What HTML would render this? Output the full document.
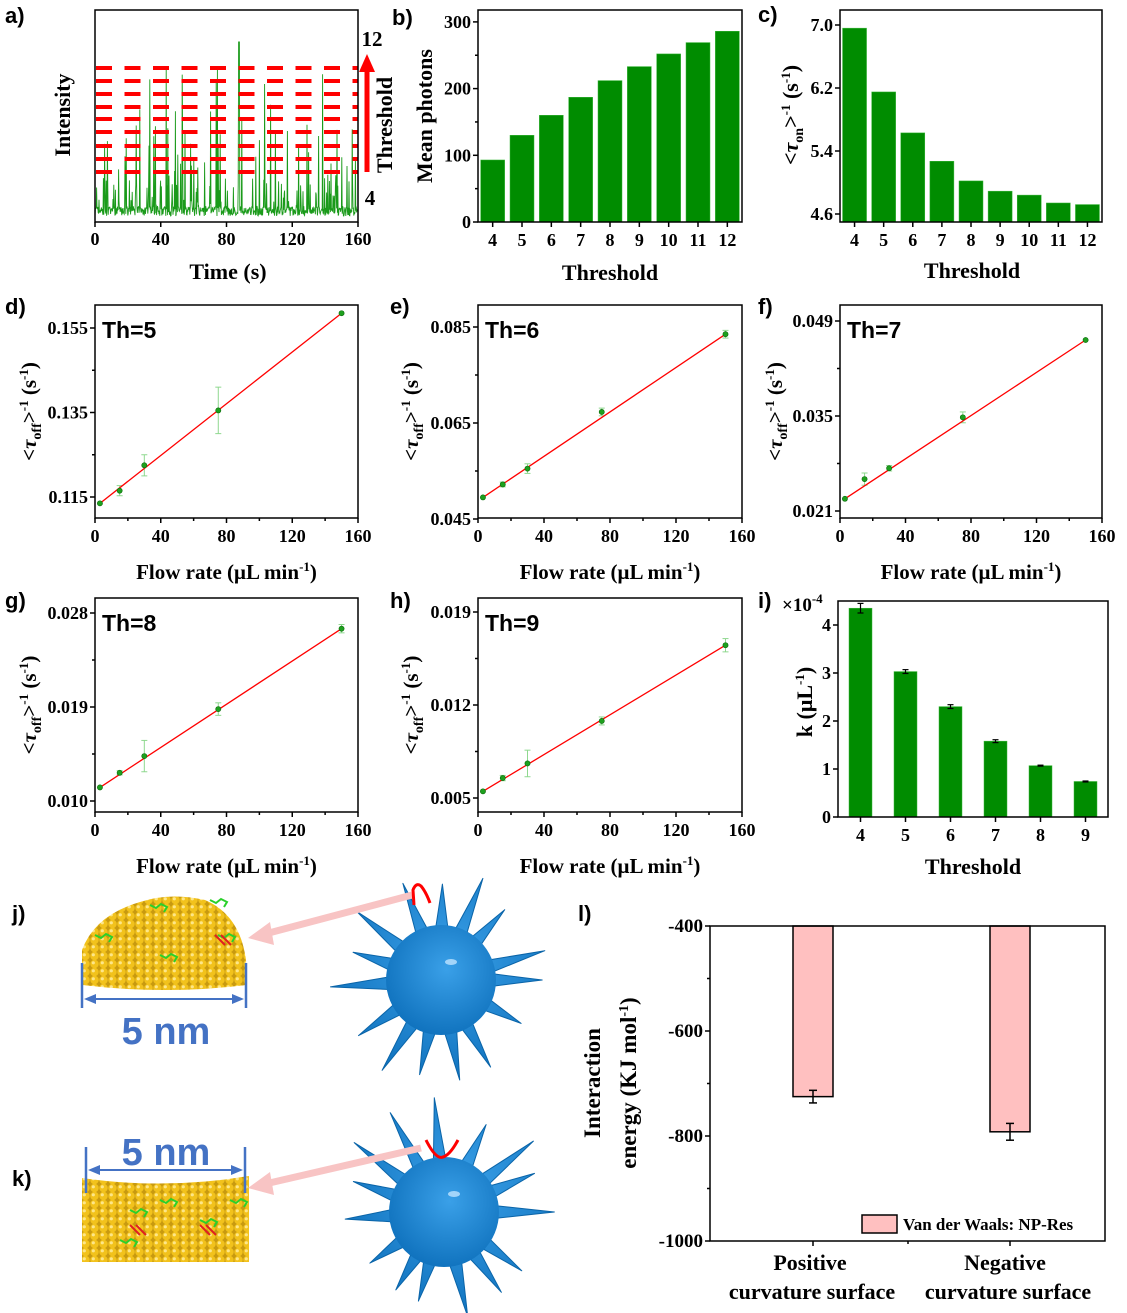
<!DOCTYPE html>
<html><head><meta charset="utf-8">
<style>
html,body{margin:0;padding:0;background:#fff;}
svg{display:block;}
.t{font-family:"Liberation Serif",serif;font-weight:bold;fill:#000;}
.s{font-family:"Liberation Sans",sans-serif;font-weight:bold;fill:#000;}
</style></head>
<body>
<svg id="c" width="1127" height="1313" viewBox="0 0 1127 1313" xmlns="http://www.w3.org/2000/svg">
<defs>
<pattern id="au" width="9" height="8" patternUnits="userSpaceOnUse">
<rect width="9" height="8" fill="#c89a10"/>
<circle cx="4.5" cy="4" r="4.2" fill="#f2c21c"/>
<circle cx="3.3" cy="2.8" r="1.6" fill="#fde68a"/>
</pattern>
<radialGradient id="bl" cx="0.55" cy="0.4" r="0.7">
<stop offset="0" stop-color="#3aa0e8"/><stop offset="1" stop-color="#0a6cb8"/>
</radialGradient>
</defs>
</svg>
<script>
const S=document.getElementById('c');const NS='http://www.w3.org/2000/svg';
function el(n,a,t){const e=document.createElementNS(NS,n);for(const k in a)e.setAttribute(k,a[k]);if(t!==undefined)e.textContent=t;S.appendChild(e);return e;}
function txt(x,y,s,o){o=o||{};const a={x:x,y:y,class:o.c||'t','font-size':o.f||18,'text-anchor':o.a||'middle'};if(o.r){a.transform='rotate(-90 '+x+' '+y+')';}if(o.fill)a.style='fill:'+o.fill;const e=el('text',a);e.innerHTML=s;return e;}
function box(x0,y0,x1,y1){el('rect',{x:x0,y:y0,width:x1-x0,height:y1-y0,fill:'none',stroke:'#000','stroke-width':1.5});}
function line(x0,y0,x1,y1,c,w){el('line',{x1:x0,y1:y0,x2:x1,y2:y1,stroke:c||'#000','stroke-width':w||1.5});}
const G='#008c00';
// ---- panel a
(function(){
 const x0=95,x1=358,y0=10,y1=222;
 let seed=7;function r(){seed=(seed*16807)%2147483647;return seed/2147483647;}
 let d='M'+x0+' 214';
 for(let x=x0;x<=x1;x+=0.4){let y=216-r()*10;if(r()<0.12)y=208-r()*30;if(r()<0.06)y=195-r()*70;if(r()<0.025)y=170-r()*105;if(Math.abs(x-239)<0.5)y=42;d+='L'+x.toFixed(1)+' '+y.toFixed(1)+' ';}
 el('path',{d:d,fill:'none',stroke:'#1a9a1a','stroke-width':0.9});
 [68,81,94,107,119,132,146,159,172].forEach(y=>{el('line',{x1:x0+1,y1:y,x2:x1,y2:y,stroke:'#ff0000','stroke-width':4,'stroke-dasharray':'16 12.5'});});
 box(x0,y0,x1,y1);
 [0,40,80,120,160].forEach((v,i)=>{const x=x0+i*(x1-x0)/4;line(x,y1,x,y1+5);txt(x,245,v);});
 line(367,172,367,70,'#ff0000',5);el('polygon',{points:'359,72 375,72 367,54',fill:'#ff0000'});
 txt(372,46,'12',{f:21,a:'middle'});txt(370,205,'4',{f:21});
 txt(392,125,'Threshold',{f:22,r:1});txt(70,115,'Intensity',{f:22,r:1});
 txt(228,279,'Time (s)',{f:22});
})();
// ---- bar helper
function bars(x0,x1,y0,y1,cats,vals,ymap,w,ticks,tickfmt,errs){
 cats.forEach((c,i)=>{const cx=x0+(i+0.5)*(x1-x0)/cats.length;const yt=ymap(vals[i]);el('rect',{x:cx-w/2,y:yt,width:w,height:y1-yt,fill:G,stroke:'#3cb83c','stroke-width':0.5});
  line(cx,y1,cx,y1+5);txt(cx,y1+24,c);
  if(errs){const e=errs[i];line(cx,ymap(vals[i]+e),cx,ymap(vals[i]-e),'#000',1.2);line(cx-3,ymap(vals[i]+e),cx+3,ymap(vals[i]+e),'#000',1.2);line(cx-3,ymap(vals[i]-e),cx+3,ymap(vals[i]-e),'#000',1.2);}
 });
 box(x0,y0,x1,y1);
 ticks.forEach(v=>{const y=ymap(v);line(x0-5,y,x0,y);txt(x0-7,y+6,tickfmt(v),{a:'end'});});
}
const cb=[4,5,6,7,8,9,10,11,12];
bars(478,742,10,222,cb,[93,130,160,187,212,233,252,269,286],v=>222-v*0.667,24,[0,100,200,300],v=>v);
[50,150,250].forEach(v=>line(475,222-v*0.667,478,222-v*0.667));
txt(610,280,'Threshold',{f:22});txt(432,116,'Mean photons',{f:22,r:1});
const cm=v=>214-(v-4.6)*78.75;
bars(840,1102,10,222,cb,[6.96,6.15,5.63,5.27,5.02,4.89,4.84,4.74,4.72],v=>Math.min(222,cm(v)),24,[4.6,5.4,6.2,7.0],v=>v.toFixed(1));
txt(972,278,'Threshold',{f:22});
txt(798,115,'&lt;<tspan font-style="italic">τ</tspan><tspan font-size="14" dy="5">on</tspan><tspan dy="-5">&gt;</tspan><tspan font-size="13" dy="-8">-1</tspan><tspan dy="8"> (s</tspan><tspan font-size="13" dy="-8">-1</tspan><tspan dy="8">)</tspan>',{f:22,r:1});
// ---- line panels
function lp(x0,x1,y0,y1,ticks,tf,ymap,pts,errs,th,ylx){
 box(x0,y0,x1,y1);
 const xm=v=>x0+v*(x1-x0)/160;
 [0,40,80,120,160].forEach(v=>{line(xm(v),y1,xm(v),y1+5);txt(xm(v),y1+24,v);});
 [20,60,100,140].forEach(v=>line(xm(v),y1,xm(v),y1+3));
 ticks.forEach(v=>{line(x0-5,ymap(v),x0,ymap(v));txt(x0-7,ymap(v)+6,tf(v),{a:'end'});});
 const dt=(ticks[1]-ticks[0])/2;line(x0-3,ymap(ticks[0]+dt),x0,ymap(ticks[0]+dt));line(x0-3,ymap(ticks[1]+dt),x0,ymap(ticks[1]+dt));
 const p0=pts[0],p1=pts[pts.length-1];
 pts.forEach((p,i)=>{const e=errs[i];if(e){const cx=xm(p[0]);line(cx,ymap(p[1]+e),cx,ymap(p[1]-e),'#8fd88f',1);line(cx-3,ymap(p[1]+e),cx+3,ymap(p[1]+e),'#8fd88f',1);line(cx-3,ymap(p[1]-e),cx+3,ymap(p[1]-e),'#8fd88f',1);}});
 line(xm(p0[0]),ymap(p0[1]),xm(p1[0]),ymap(p1[1]),'#ff0000',1.3);
 pts.forEach(p=>el('circle',{cx:xm(p[0]),cy:ymap(p[1]),r:2.6,fill:'#1ea01e',stroke:'#0a6a0a','stroke-width':0.6}));
 txt(x0+7,y0+33,th,{c:'s',f:23,a:'start'});
 txt((x0+x1)/2,y1+61,'Flow rate (μL min<tspan font-size="13" dy="-8">-1</tspan><tspan dy="8">)</tspan>',{f:21});
 txt(ylx,(y0+y1)/2,'&lt;<tspan font-style="italic">τ</tspan><tspan font-size="14" dy="5">off</tspan><tspan dy="-5">&gt;</tspan><tspan font-size="13" dy="-8">-1</tspan><tspan dy="8"> (s</tspan><tspan font-size="13" dy="-8">-1</tspan><tspan dy="8">)</tspan>',{f:21,r:1});
}
const X=[3,15,30,75,150];
function mk(v0,y0,v1,y1){return v=>y0+(v-v0)*(y1-y0)/(v1-v0);}
lp(95,358,305,518,[0.115,0.135,0.155],v=>v.toFixed(3),mk(0.155,328,0.115,497),X.map((x,i)=>[x,[0.1135,0.1165,0.1225,0.1355,0.1585][i]]),[0,0.0012,0.0025,0.0055,0],'Th=5',36);
lp(478,742,305,518,[0.045,0.065,0.085],v=>v.toFixed(3),mk(0.085,327,0.045,519),X.map((x,i)=>[x,[0.0495,0.0522,0.0555,0.0673,0.0835][i]]),[0,0.0005,0.001,0.0008,0.0008],'Th=6',418);
lp(840,1102,305,518,[0.021,0.035,0.049],v=>v.toFixed(3),mk(0.049,321,0.021,511),X.map((x,i)=>[x,[0.0228,0.0257,0.0273,0.0348,0.0462][i]]),[0,0.0009,0.0004,0.0008,0],'Th=7',782);
lp(95,358,598,812,[0.010,0.019,0.028],v=>v.toFixed(3),mk(0.028,613,0.010,801),X.map((x,i)=>[x,[0.0113,0.0127,0.0143,0.0188,0.0265][i]]),[0,0.0002,0.0015,0.0006,0.0004],'Th=8',36);
lp(478,742,598,812,[0.005,0.012,0.019],v=>v.toFixed(3),mk(0.019,612,0.005,798),X.map((x,i)=>[x,[0.0055,0.0065,0.0076,0.0108,0.0165][i]]),[0,0.0002,0.001,0.0003,0.0005],'Th=9',418);
// ---- panel i
bars(838,1108,601,817,[4,5,6,7,8,9],[4.35,3.03,2.3,1.58,1.07,0.74],v=>817-v*48,23,[0,1,2,3,4],v=>v,[0.1,0.04,0.04,0.03,0.01,0.01]);
txt(973,874,'Threshold',{f:22});
txt(812,702,'k (μL<tspan font-size="13" dy="-8">-1</tspan><tspan dy="8">)</tspan>',{f:22,r:1});
txt(782,611,'×10<tspan font-size="13" dy="-8">-4</tspan>',{f:19,a:'start'});
// ---- panel labels
[['a)',5,23],['b)',392,25],['c)',758,22],['d)',5,314],['e)',390,314],['f)',758,314],['g)',5,608],['h)',390,608],['i)',758,608],['j)',12,921],['k)',12,1186],['l)',578,921]].forEach(p=>txt(p[1],p[2],p[0],{c:'s',f:22,a:'start'}));
// ---- panel l
(function(){
 const x0=710,x1=1105,y0=926,y1=1241,ym=v=>y0+(-400-v)*(y1-y0)/600;
 [[813,-725,12],[1010,-792,16]].forEach(b=>{el('rect',{x:b[0]-20,y:y0,width:40,height:ym(b[1])-y0,fill:'#ffc0c0',stroke:'#000','stroke-width':1.5});
  const e=b[2];line(b[0],ym(b[1]+e),b[0],ym(b[1]-e),'#000',1.5);line(b[0]-4,ym(b[1]+e),b[0]+4,ym(b[1]+e),'#000',1.5);line(b[0]-4,ym(b[1]-e),b[0]+4,ym(b[1]-e),'#000',1.5);
  line(b[0],y1,b[0],y1+5);});
 box(x0,y0,x1,y1);line(908,y1,908,y1+3);
 [-400,-600,-800,-1000].forEach(v=>{line(x0-5,ym(v),x0,ym(v));txt(x0-7,ym(v)+6,v,{a:'end',f:19});});
 [-500,-700,-900].forEach(v=>line(x0-3,ym(v),x0,ym(v)));
 el('rect',{x:862,y:1215,width:35,height:18,fill:'#ffc0c0',stroke:'#000','stroke-width':1.5});
 txt(903,1230,'Van der Waals: NP-Res',{a:'start',f:17});
 txt(810,1270,'Positive',{f:22});txt(812,1299,'curvature surface',{f:22});
 txt(1005,1270,'Negative',{f:22});txt(1008,1299,'curvature surface',{f:22});
 txt(600,1083,'Interaction',{f:23,r:1});txt(636,1083,'energy (KJ mol<tspan font-size="14" dy="-8">-1</tspan><tspan dy="8">)</tspan>',{f:23,r:1});
})();
// ---- j / k illustrations
function star(cx,cy,seed){let s=seed;function r(){s=(s*16807)%2147483647;return s/2147483647;}
 const n=15;let d='';for(let i=0;i<n;i++){const a=i/n*2*Math.PI+r()*0.25;const a1=a-0.13,a2=a+0.13;const R=50,L=90+r()*25;
  const p=(ang,rr)=>[cx+rr*Math.cos(ang),cy+rr*Math.sin(ang)];
  const b1=p(a1,R),t=p(a,L),b2=p(a2,R);d+=(i?'L':'M')+b1[0].toFixed(1)+' '+b1[1].toFixed(1)+' L'+t[0].toFixed(1)+' '+t[1].toFixed(1)+' L'+b2[0].toFixed(1)+' '+b2[1].toFixed(1)+' ';}
 d+='Z';el('path',{d:d,fill:'url(#bl)',stroke:'#0a64a8','stroke-width':1,'stroke-linejoin':'round'});
 el('circle',{cx:cx,cy:cy,r:55,fill:'url(#bl)'});
 el('ellipse',{cx:cx+10,cy:cy-18,rx:6,ry:3,fill:'#bfe4ff',opacity:0.8});
}
star(441,980,11);star(444,1212,29);
el('path',{d:'M82 985 L82 950 Q95 915 140 902 Q170 892 205 900 Q240 915 246 960 L247 985 Q165 995 82 985 Z',fill:'url(#au)'});
el('path',{d:'M82 1178 Q165 1190 249 1176 L249 1262 L82 1262 Z',fill:'url(#au)'});
[[95,935],[150,905],[210,900],[218,935],[160,955],[130,1210],[160,1200],[200,1220],[120,1240],[230,1200]].forEach(p=>{el('path',{d:'M'+p[0]+' '+p[1]+' l6 3 l5 -4 l6 3 l-3 5',fill:'none',stroke:'#2bd02b','stroke-width':2});});
[[215,935],[200,1225],[130,1225]].forEach(p=>{el('path',{d:'M'+p[0]+' '+p[1]+' l10 10 m-4 -10 l10 10',fill:'none',stroke:'#e02020','stroke-width':2});});
const B='#4472c4';
line(82,963,82,1008,B,2.5);line(246,963,246,1008,B,2.5);line(88,999,240,999,B,2);
el('polygon',{points:'84,999 96,994 96,1004',fill:B});el('polygon',{points:'244,999 232,994 232,1004',fill:B});
txt(166,1044,'5 nm',{c:'s',f:38,fill:B});
line(86,1147,86,1193,B,2.5);line(245,1147,245,1193,B,2.5);line(92,1170,239,1170,B,2);
el('polygon',{points:'88,1170 100,1165 100,1175',fill:B});el('polygon',{points:'243,1170 231,1165 231,1175',fill:B});
txt(166,1165,'5 nm',{c:'s',f:38,fill:B});
line(412,895,265,934,'#f8c4c4',7);el('polygon',{points:'248,938 270,922 274,945',fill:'#f8c4c4'});
line(421,1148,265,1184,'#f8c4c4',7);el('polygon',{points:'248,1188 270,1172 274,1195',fill:'#f8c4c4'});
el('path',{d:'M414 905 L413 890 Q416 882 421 886 Q426 892 430 903',fill:'none',stroke:'#ff0000','stroke-width':3});
el('path',{d:'M426 1140 Q436 1160 443 1157 Q450 1155 458 1140',fill:'none',stroke:'#ff0000','stroke-width':3});
</script>
</body></html>
